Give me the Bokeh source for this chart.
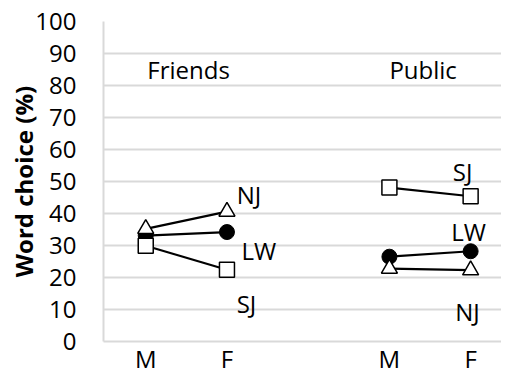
from bokeh.plotting import figure
from bokeh.models import Range1d, FixedTicker
from bokeh.embed import file_html
from bokeh.resources import INLINE
from bokeh.core.properties import value

# categories: x slots (gap in slot 3)
x_friends = [1, 2]
x_public = [4, 5]
tick_pos = [1, 2, 4, 5]
tick_labels = ["M", "F", "M", "F"]
y_ticks = [0, 10, 20, 30, 40, 50, 60, 70, 80, 90, 100]

# series values (%)
friends_nj = [35.2, 40.6]
friends_lw = [33.1, 34.2]
friends_sj = [29.9, 22.4]
public_sj = [48.1, 45.4]
public_lw = [26.5, 28.2]
public_nj = [22.8, 22.3]

# series label placements
label_text = ["NJ", "LW", "SJ", "SJ", "LW", "NJ"]
label_x = [2.12, 2.18, 2.12, 4.78, 4.76, 4.81]
label_y = [46.0, 28.4, 12.0, 53.2, 34.3, 9.5]
group_text = ["Friends", "Public"]
group_x = [1.02, 4.0]
group_y = [85.0, 85.0]

FONT = "Open Sans"
GRID = "#d9d9d9"

p = figure(width=501, height=377, output_backend="svg", toolbar_location=None,
           x_range=Range1d(0.48, 5.38), y_range=Range1d(0, 100))
p.min_border = 0
p.min_border_left = 103
p.min_border_top = 21
p.min_border_right = 0
p.min_border_bottom = 0
p.outline_line_color = None
p.background_fill_color = "white"
p.border_fill_color = "white"

p.xgrid.grid_line_color = None
p.ygrid.grid_line_color = GRID
p.ygrid.grid_line_width = 2
p.yaxis.ticker = FixedTicker(ticks=y_ticks)
p.xaxis.ticker = FixedTicker(ticks=tick_pos)
p.xaxis.major_label_overrides = {t: l for t, l in zip(tick_pos, tick_labels)}

for ax in (p.xaxis[0], p.yaxis[0]):
    ax.axis_line_color = GRID
    ax.axis_line_width = 2
    ax.major_tick_line_color = None
    ax.minor_tick_line_color = None
    ax.major_tick_out = 0
    ax.major_tick_in = 0
    ax.minor_tick_out = 0
    ax.major_label_text_font = FONT
    ax.major_label_text_font_size = "24px"
    ax.major_label_text_color = "black"

p.yaxis.major_label_standoff = 27
p.xaxis.major_label_standoff = 0
p.yaxis.axis_label = "Word choice (%)"
p.yaxis.axis_label_text_font = FONT
p.yaxis.axis_label_text_font_style = "bold"
p.yaxis.axis_label_text_font_size = "24px"
p.yaxis.axis_label_text_color = "black"
p.yaxis.axis_label_standoff = -8

def series(xs, ys, marker):
    p.line(xs, ys, line_color="black", line_width=2.2)
    if marker == "circle":
        p.scatter(xs, ys, marker="circle", size=15, fill_color="black", line_color="black")
    elif marker == "square":
        p.scatter(xs, ys, marker="square", size=15, fill_color="white", line_color="black", line_width=1.5)
    else:
        p.scatter(xs, ys, marker="triangle", size=16, fill_color="white", line_color="black", line_width=1.5)

series(x_friends, friends_lw, "circle")
series(x_friends, friends_nj, "triangle")
series(x_friends, friends_sj, "square")
series(x_public, public_lw, "circle")
series(x_public, public_nj, "triangle")
series(x_public, public_sj, "square")

p.text(label_x, label_y, text=label_text, text_font=value(FONT), text_font_size="24px",
       text_color="black", text_baseline="alphabetic", text_align="left")
p.text(group_x, group_y, text=group_text, text_font=value(FONT), text_font_size="24px",
       text_color="black", text_baseline="alphabetic", text_align="left")

open("out.html", "w").write(file_html(p, INLINE))
